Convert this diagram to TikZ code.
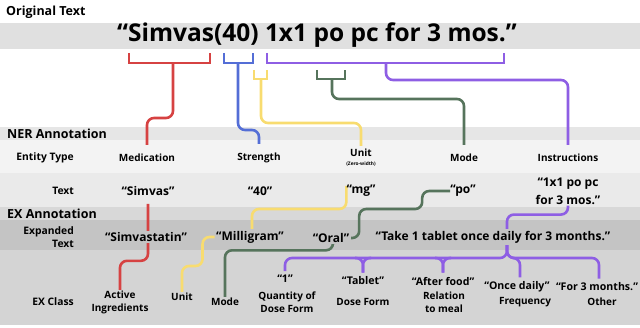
\documentclass[tikz,border=0pt]{standalone}
\usepackage{fontspec}
\setmainfont{Open Sans}
\setsansfont{Open Sans}
\usetikzlibrary{calc}

\definecolor{medred}{RGB}{214,66,66}
\definecolor{strblue}{RGB}{84,110,214}
\definecolor{unityel}{RGB}{248,220,112}
\definecolor{modegrn}{RGB}{86,116,92}
\definecolor{instpur}{RGB}{142,94,228}
\definecolor{bandorig}{RGB}{224,224,224}
\definecolor{bandner}{RGB}{230,230,230}
\definecolor{bandent}{RGB}{243,243,243}
\definecolor{bandtxt}{RGB}{234,234,234}
\definecolor{bandex}{RGB}{216,216,216}
\definecolor{bandexp}{RGB}{196,196,196}
\definecolor{bandcls}{RGB}{212,212,212}

\pgfdeclarelayer{bands}
\pgfdeclarelayer{links}
\pgfsetlayers{bands,links,main}

\begin{document}
\begin{tikzpicture}[
  x=1pt, y=-1pt,
  font=\sffamily\bfseries,
  section/.style={
    font=\sffamily\bfseries\fontsize{12.5}{14}\selectfont,
    anchor=west,
    inner sep=0pt
  },
  bigtext/.style={
    font=\sffamily\bfseries\fontsize{24.5}{28}\selectfont,
    inner sep=0pt
  },
  rowname/.style={
    font=\sffamily\bfseries\fontsize{10.3}{13.5}\selectfont,
    anchor=east,
    align=right,
    inner sep=0pt
  },
  entity/.style={
    font=\sffamily\bfseries\fontsize{10}{11}\selectfont,
    inner sep=0pt
  },
  zerow/.style={
    font=\sffamily\bfseries\fontsize{4.8}{5}\selectfont,
    inner sep=0pt
  },
  span/.style={
    font=\sffamily\bfseries\fontsize{12}{18}\selectfont,
    align=center,
    inner sep=0pt
  },
  expd/.style={
    span,
    fill=bandexp,
    inner sep=1.5pt
  },
  excls/.style={
    font=\sffamily\bfseries\fontsize{10}{13}\selectfont,
    align=center,
    inner sep=0pt
  },
  exq/.style={
    font=\sffamily\bfseries\fontsize{10.6}{12}\selectfont,
    inner sep=0pt
  },
  link/.style={
    line width=2.6pt,
    rounded corners=7pt
  },
  brace/.style={line width=2.6pt},
  medlink/.style={link, medred},
  strlink/.style={link, strblue},
  unitlink/.style={link, unityel},
  modelink/.style={link, modegrn},
  instlink/.style={link, instpur}
]

\useasboundingbox (0,0) rectangle (640,328);

% row bands
\begin{pgfonlayer}{bands}
\fill[bandorig] (0,23) rectangle (640,49);
\fill[bandner] (0,127) rectangle (640,140);
\fill[bandent] (0,140) rectangle (640,173);
\fill[bandtxt] (0,173) rectangle (640,207);
\fill[bandex] (0,207) rectangle (640,220);
\fill[bandexp] (0,220) rectangle (640,250);
\fill[bandcls] (0,250) rectangle (640,325);
\end{pgfonlayer}

\node[section] (origlbl) at (6,12) {Original Text};

\node[bigtext] (orig) at (317,35)
  {“Simvas(40) 1x1 po pc for 3 mos.”};

\node[section] (nerlbl) at (7,133.5) {NER Annotation};
\node[section] (exlbl) at (7,214) {EX Annotation};

\node[rowname] (etrow) at (74,158) {Entity Type};
\node[rowname] (txrow) at (74,191) {Text};
\node[rowname] (exprow) at (74,237) {Expanded\\Text};
\node[rowname] (clsrow) at (74,302) {EX Class};

% entity types
\node[entity] (med) at (147,158) {Medication};
\node[entity] (str) at (259,158) {Strength};
\node[entity] (unit) at (361,153) {Unit};
\node[zerow] (zw) at (361,164.5) {(Zero-width)};
\node[entity] (mode) at (464,158) {Mode};
\node[entity] (inst) at (568,158) {Instructions};

% ner text
\node[span] (simvas) at (148,191) {“Simvas”};
\node[span] (forty) at (260,191) {“40”};
\node[span] (mg) at (361,191) {“mg”};
\node[span] (po) at (463,191) {“po”};
\node[span] (sig) at (568,191) {“1x1 po pc\\for 3 mos.”};

% expanded text
\node[expd] (simva) at (146,237) {“Simvastatin”};
\node[expd] (milli) at (250,237) {“Milligram”};
\node[expd] (oral) at (331,238) {“Oral”};
\node[expd] (take) at (493,237) {“Take 1 tablet once daily for 3 months.”};

% ex classes
\node[excls] (actv) at (120,302.5) {Active\\Ingredients};
\node[excls] (unitc) at (182,297) {Unit};
\node[excls] (modec) at (225,302) {Mode};
\node[exq] (one) at (285,279) {“1”};
\node[excls] (qty) at (287,302.5) {Quantity of\\Dose Form};
\node[exq] (tab) at (363,281) {“Tablet”};
\node[excls] (dose) at (363,302) {Dose Form};
\node[exq] (food) at (443,281) {“After food”};
\node[excls] (meal) at (444,302.5) {Relation\\to meal};
\node[exq] (daily) at (517,287) {“Once daily”};
\node[excls] (freq) at (525,302) {Frequency};
\node[exq] (months) at (597,287) {“For 3 months.”};
\node[excls] (other) at (602,302) {Other};

% spans under the original text
\coordinate (medL) at (129,53);
\coordinate (medR) at (210,53);
\coordinate (medS) at (173,63);
\coordinate (strL) at (224,53);
\coordinate (strR) at (253,53);
\coordinate (strS) at (238,63);
\coordinate (unitL) at (254,70);
\coordinate (unitR) at (267,70);
\coordinate (unitS) at (261,79);
\coordinate (modeL) at (317,70);
\coordinate (modeR) at (345,70);
\coordinate (modeS) at (332,79);
\coordinate (instL) at (267,53);
\coordinate (instR) at (504,53);
\coordinate (instS) at (386,63);
\coordinate (instJ) at (507,258);

\begin{pgfonlayer}{links}
\draw[brace, medred] (medL) -- ++(0,10) -| (medR);
\draw[brace, strblue] (strL) -- ++(0,10) -| (strR);
\draw[brace, unityel] (unitL) -- ++(0,9) -| (unitR);
\draw[brace, modegrn] (modeL) -- ++(0,9) -| (modeR);
\draw[brace, instpur] (instL) -- ++(0,10) -| (instR);

\draw[medlink, shorten >=9pt] (medS) -- ++(0,55) -| (med.north);
\draw[strlink, shorten >=9pt] (strS) -- ++(0,67) -| (str.north);
\draw[unitlink, shorten >=3pt] (unitS) -- ++(0,44) -| (unit.north);
\draw[modelink, shorten >=9pt] (modeS) -- ++(0,20) -| (mode.north);
\draw[instlink, shorten >=9pt] (instS) -- ++(0,17) -| (inst.north);

% ner text to expanded text
\draw[medlink, shorten <=8pt, shorten >=1pt] (simvas.south)
  -- ++(0,65) -| (actv.north);

\draw[unitlink] ([yshift=5pt]mg.west)
  -- ++(0,23) -| ([xshift=2pt]milli.north);

\draw[unitlink, shorten >=1pt] (milli.west)
  -- ++(-12,0) -- ++(0,29) -| (unitc.north);

\draw[modelink] (po.west)
  -- ++(-28,0) -- ++(0,18) -- ++(-63,0) |- (oral.east);

\draw[modelink, shorten >=1pt] ([xshift=2pt]oral.south)
  -- ++(0,6) -| (modec.north);

\draw[instlink, shorten <=1pt] (sig.south)
  -- ++(0,10) -| ([xshift=14pt]take.north);

% expanded text to ex classes
\draw[instlink, shorten >=4pt] ([xshift=14pt]take.south) -- (instJ) -| (one.north);
\draw[instlink, shorten >=4pt] ([xshift=14pt]take.south) -- (instJ) -| ([xshift=3pt]daily.north);
\draw[instlink, shorten >=4pt] ([xshift=14pt]take.south) -- (instJ) -| ([xshift=2pt]months.north);

\draw[instlink, shorten >=4pt] ($(tab.north |- instJ)+(-8,0)$) -| (tab.north);
\draw[instlink, shorten >=4pt] ($(tab.north |- instJ)+(8,0)$) -| (tab.north);
\draw[instlink, shorten >=4pt] ($(food.north |- instJ)+(-8,0)$) -| (food.north);
\draw[instlink, shorten >=4pt] ($(food.north |- instJ)+(8,0)$) -| (food.north);
\end{pgfonlayer}

\end{tikzpicture}
\end{document}
